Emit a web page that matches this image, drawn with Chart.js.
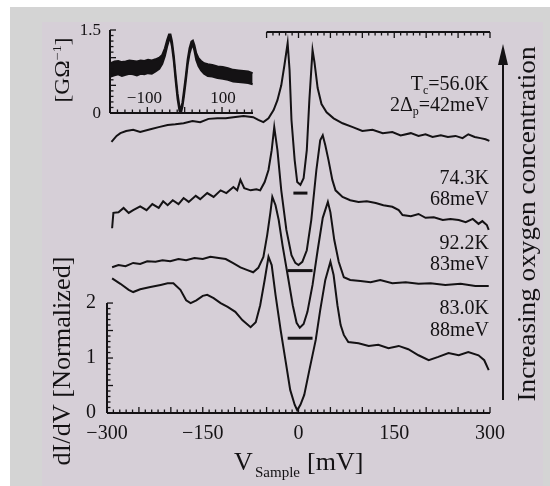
<!DOCTYPE html>
<html>
<head>
<meta charset="utf-8">
<script src="https://cdn.jsdelivr.net/npm/chart.js@4.4.1/dist/chart.umd.min.js"></script>
<style>
  html, body { margin: 0; padding: 0; background: #fff; }
  #wrap { position: relative; width: 550px; height: 486px; overflow: hidden; }
  #frame { position: absolute; left: 10px; top: 7px; width: 540px; height: 479px; background: #d4d4d4; }
  #panel { position: absolute; left: 42px; top: 22px; width: 501px; height: 464px; background: #d6cfd7; }
  canvas { position: absolute; left: 0; top: 0; }
</style>
</head>
<body>
<div id="wrap">
  <div id="frame"></div>
  <div id="panel"></div>
  <canvas id="main" width="550" height="486"></canvas>
  <canvas id="inset" width="550" height="486"></canvas>
</div>
<script>
// ---- data (mV, normalized dI/dV incl. vertical offset) ----
const xTickLabels = [-300, -150, 0, 150, 300];
const yTickLabels = [0, 1, 2];

// Tc = 56.0K
const c1Mv = [-293,-285,-279,-270,-259,-248,-232,-219,-205,-193,-180,-166,-154,-141,-127,-114,-102,-86,-71,-63,-55,-47,-39,-33,-27,-22,-17,-14,-11,-6,-2,3,8,13,17,22,25,30,36,44,55,69,85,100,116,132,147,160,176,188,199,210,223,234,246,257,266,276,285,293,299];
const c1Val = [4.93,5.04,5.09,5.13,5.15,5.11,5.16,5.20,5.24,5.25,5.27,5.31,5.29,5.35,5.36,5.36,5.38,5.40,5.38,5.33,5.29,5.36,5.51,5.69,5.96,6.33,6.73,6.24,5.33,4.60,4.20,4.15,4.27,4.78,5.69,6.60,6.38,5.91,5.62,5.47,5.36,5.27,5.20,5.13,5.15,5.09,5.11,5.05,5.09,5.04,5.07,5.02,5.05,5.02,5.04,5.00,5.07,5.02,5.00,4.98,4.95];

// 74.3K
const c2Mv = [-292,-290,-282,-274,-266,-259,-248,-238,-229,-219,-212,-205,-197,-188,-180,-172,-161,-154,-143,-133,-122,-113,-102,-96,-91,-85,-75,-66,-60,-53,-47,-42,-38,-33,-27,-19,-11,-5,0,6,13,20,28,34,38,42,47,53,58,69,81,94,107,121,133,147,157,163,176,188,199,212,226,238,251,262,273,282,288,295,298];
const c2Val = [3.36,3.64,3.65,3.73,3.64,3.69,3.76,3.69,3.80,3.73,3.85,3.78,3.87,3.80,3.91,3.84,3.95,3.89,4.00,3.93,4.05,4.00,4.11,4.05,4.24,4.09,4.05,4.07,4.05,4.20,4.42,4.78,5.20,4.78,4.05,3.33,2.87,2.73,2.69,2.75,2.96,3.51,4.42,4.96,5.05,4.87,4.60,4.24,4.05,3.93,3.87,3.84,3.85,3.82,3.78,3.75,3.69,3.60,3.58,3.62,3.55,3.56,3.51,3.53,3.51,3.47,3.53,3.44,3.49,3.42,3.33];

// 92.2K
const c3Mv = [-292,-282,-271,-259,-248,-237,-224,-213,-201,-188,-176,-163,-150,-138,-125,-114,-103,-91,-80,-71,-63,-55,-49,-44,-41,-36,-31,-25,-17,-9,-3,2,8,14,22,30,38,46,50,56,63,71,81,97,113,128,147,168,188,207,230,254,277,298];
const c3Val = [2.65,2.69,2.67,2.73,2.71,2.76,2.75,2.78,2.76,2.80,2.78,2.82,2.80,2.84,2.82,2.80,2.73,2.65,2.60,2.56,2.64,2.84,3.24,3.65,3.93,3.78,3.51,3.05,2.51,1.96,1.64,1.55,1.62,1.84,2.33,2.96,3.55,3.84,3.65,3.15,2.75,2.47,2.42,2.40,2.38,2.42,2.36,2.38,2.35,2.36,2.33,2.35,2.31,2.31];

// 83.0K
const c4Mv = [-292,-279,-266,-259,-248,-232,-216,-205,-196,-185,-176,-169,-160,-150,-143,-133,-122,-111,-99,-88,-75,-67,-60,-53,-47,-42,-36,-28,-20,-13,-6,-2,3,9,17,27,34,42,50,55,61,66,71,78,94,110,125,141,157,172,188,204,219,235,251,266,282,291,298];
const c4Val = [2.45,2.35,2.24,2.20,2.25,2.29,2.33,2.36,2.36,2.24,2.05,2.00,2.05,2.13,2.15,2.09,2.00,1.93,1.84,1.69,1.56,1.65,1.96,2.42,2.84,2.69,2.15,1.51,0.93,0.42,0.15,0.05,0.15,0.33,0.78,1.33,1.87,2.42,2.75,2.51,1.96,1.60,1.42,1.29,1.27,1.22,1.24,1.18,1.22,1.16,1.05,0.96,1.02,1.09,1.05,1.11,1.05,0.96,0.78];

// zero-level markers of the offset curves
const zeroMarkMv = [[-8, 14], [-17, 22], [-17, 22]];
const zeroMarkVal = [4.0, 2.59, 1.36];

const curveTemps = ['56.0K', '74.3K', '92.2K', '83.0K'];
const curveGaps = ['42meV', '68meV', '83meV', '88meV'];

// inset: raw conductance [GOhm^-1], band of overlaid spectra
const insetXTickLabels = [-100, 100];
const insetYTickLabels = [0, 1.5];
const insetMv = [-198,-188,-178,-168,-158,-148,-138,-128,-118,-108,-98,-88,-78,-68,-60,-53,-47,-42,-38,-34,-29,-24,-19,-14,-10,-6,-2,3,8,13,18,22,26,31,37,44,52,62,74,88,102,116,130,144,158,170,182];
const insetHigh = [.90,.93,.94,.92,.93,.95,.94,.93,.95,.94,.96,.95,.97,1.0,1.05,1.17,1.32,1.42,1.42,1.30,1.03,.67,.35,.12,.08,.19,.40,.67,.97,1.17,1.29,1.31,1.23,1.08,.99,.94,.90,.88,.87,.84,.83,.81,.78,.77,.76,.75,.72];
const insetLow = [.66,.68,.70,.67,.69,.71,.70,.68,.71,.70,.72,.71,.75,.80,.89,1.03,1.20,1.32,1.33,1.20,.93,.57,.25,.04,.00,.11,.30,.57,.87,1.07,1.19,1.22,1.13,.96,.85,.77,.71,.67,.66,.63,.62,.60,.57,.56,.55,.54,.52];

// ---- helpers ----
const INK = '#141214';
const SERIF = '"Liberation Serif", "DejaVu Serif", serif';
Chart.defaults.font.family = SERIF;
Chart.defaults.color = INK;

const pts = (xs, ys) => xs.map((x, i) => ({ x: x, y: ys[i] }));
const fmt = (v) => (v < 0 ? '\u2212' + Math.abs(v) : String(v));

function curve(xs, ys) {
  return { data: pts(xs, ys), borderColor: INK, borderWidth: 2, pointRadius: 0, tension: 0, fill: false };
}

function seg(ctx, x1, y1, x2, y2) {
  ctx.beginPath(); ctx.moveTo(x1, y1); ctx.lineTo(x2, y2); ctx.stroke();
}

// draw [text, size, dy] pieces, right aligned or from a left x
function drawParts(ctx, parts, x, yBase, alignRight) {
  let w = 0;
  parts.forEach(p => { ctx.font = p[1] + 'px ' + SERIF; w += ctx.measureText(p[0]).width; });
  let cx = alignRight ? x - w : x;
  ctx.textAlign = 'left'; ctx.textBaseline = 'alphabetic';
  parts.forEach(p => {
    ctx.font = p[1] + 'px ' + SERIF;
    ctx.fillText(p[0], cx, yBase + p[2]);
    cx += ctx.measureText(p[0]).width;
  });
}

// rotated (reading upward) text stretched to a given length
function drawVertical(ctx, parts, cx, cy, len) {
  ctx.save();
  ctx.translate(cx, cy);
  ctx.rotate(-Math.PI / 2);
  let w = 0;
  parts.forEach(p => { ctx.font = p[1] + 'px ' + SERIF; w += ctx.measureText(p[0]).width; });
  ctx.scale(len / w, 1);
  drawParts(ctx, parts, -w / 2, 0, false);
  ctx.restore();
}

// ---- main chart ----
const mainAxes = {
  id: 'mainAxes',
  afterDatasetsDraw(chart) {
    const ctx = chart.ctx, xs = chart.scales.x, ys = chart.scales.y;
    const y0 = ys.getPixelForValue(0), yTop = ys.getPixelForValue(ys.max);
    const xl = xs.getPixelForValue(-300), xr = xs.getPixelForValue(300);
    ctx.save();
    ctx.strokeStyle = INK; ctx.fillStyle = INK;
    ctx.lineWidth = 2;
    seg(ctx, xl, y0, xr, y0);
    seg(ctx, xs.getPixelForValue(-50), yTop, xr, yTop);
    seg(ctx, xl, y0, xl, ys.getPixelForValue(2));
    ctx.lineWidth = 1.3;
    for (let v = -300; v <= 300; v += 10) {
      const x = xs.getPixelForValue(v), len = v % 50 === 0 ? 6 : 3.5;
      seg(ctx, x, y0, x, y0 - len);
      if (v >= -50) seg(ctx, x, yTop, x, yTop + len);
    }
    for (let k = 0; k <= 20; k++) {
      const y = ys.getPixelForValue(k / 10), len = k % 5 === 0 ? 6 : 3.5;
      seg(ctx, xl, y, xl + len, y);
    }

    // curve annotations
    const xR = 489;
    drawParts(ctx, [['T', 20, 0], ['c', 12, 4], ['=' + curveTemps[0], 20, 0]], xR, 90, true);
    drawParts(ctx, [['2\u0394', 20, 0], ['p', 12, 4], ['=' + curveGaps[0], 20, 0]], xR, 111, true);
    const base = [[184, 205], [249, 270], [314, 336]];
    base.forEach((b, i) => {
      drawParts(ctx, [[curveTemps[i + 1], 20, 0]], xR, b[0], true);
      drawParts(ctx, [[curveGaps[i + 1], 20, 0]], xR, b[1], true);
    });

    // x title
    drawParts(ctx, [['V', 26, 0]], 234, 470, false);
    drawParts(ctx, [['Sample', 15, 0]], 255, 477, false);
    drawParts(ctx, [['[mV]', 26, 0]], 307, 470, false);

    // y title
    drawVertical(ctx, [['dI/dV [Normalized]', 26, 0]], 70, 361, 209);

    // arrow + caption
    ctx.lineWidth = 2;
    seg(ctx, 503, 62, 503, 400);
    ctx.beginPath(); ctx.moveTo(503, 44); ctx.lineTo(498, 65); ctx.lineTo(508, 65); ctx.closePath(); ctx.fill();
    drawVertical(ctx, [['Increasing oxygen concentration', 26, 0]], 535, 224, 355);
    ctx.restore();
  }
};

const datasets = [curve(c1Mv, c1Val), curve(c2Mv, c2Val), curve(c3Mv, c3Val), curve(c4Mv, c4Val)];
zeroMarkMv.forEach((m, i) => {
  datasets.push({ data: m.map(x => ({ x: x, y: zeroMarkVal[i] })), borderColor: INK, borderWidth: 3, pointRadius: 0, fill: false });
});

new Chart(document.getElementById('main'), {
  type: 'line',
  data: { datasets: datasets },
  options: {
    responsive: false,
    animation: false,
    layout: { padding: { top: 32, right: 60, left: 0, bottom: 0 } },
    plugins: { legend: { display: false }, tooltip: { enabled: false } },
    scales: {
      x: {
        type: 'linear', min: -300, max: 300,
        grid: { display: false, drawTicks: false }, border: { display: false },
        afterBuildTicks: (s) => { s.ticks = xTickLabels.map(v => ({ value: v })); },
        afterFit: (s) => { s.height = 73; },
        ticks: { font: { size: 20 }, padding: 9, maxRotation: 0, autoSkip: false, color: INK, callback: (v) => fmt(v) }
      },
      y: {
        type: 'linear', min: 0, max: 6.93,
        grid: { display: false, drawTicks: false }, border: { display: false },
        afterBuildTicks: (s) => { s.ticks = yTickLabels.map(v => ({ value: v })); },
        afterFit: (s) => { s.width = 107; },
        ticks: { font: { size: 20 }, padding: 11, color: INK, callback: (v) => fmt(v) }
      }
    }
  },
  plugins: [mainAxes]
});

// ---- inset ----
const insetAxes = {
  id: 'insetAxes',
  afterDatasetsDraw(chart) {
    const ctx = chart.ctx, xs = chart.scales.x, ys = chart.scales.y;
    const y0 = ys.getPixelForValue(0), xl = xs.left, xr = xs.right;
    ctx.save();
    ctx.strokeStyle = INK; ctx.fillStyle = INK;
    ctx.lineWidth = 2;
    seg(ctx, xl, y0, xr, y0);
    seg(ctx, xl, y0, xl, ys.getPixelForValue(1.5));
    ctx.lineWidth = 1.3;
    for (let v = -200; v <= 180; v += 20) {
      const x = xs.getPixelForValue(v), len = v % 100 === 0 ? 6 : 3.5;
      seg(ctx, x, y0, x, y0 - len);
    }
    for (let k = 0; k <= 15; k++) {
      const y = ys.getPixelForValue(k / 10), len = k % 5 === 0 ? 6 : 3.5;
      seg(ctx, xl, y, xl + len, y);
    }
    ctx.font = '17px ' + SERIF;
    ctx.textAlign = 'right'; ctx.textBaseline = 'middle';
    insetYTickLabels.forEach(v => ctx.fillText(fmt(v), xl - 9, ys.getPixelForValue(v) + 1));
    ctx.textAlign = 'center';
    insetXTickLabels.forEach(v => ctx.fillText(fmt(v), xs.getPixelForValue(v) - (v < 0 ? 3 : -1), y0 - 14));
    drawVertical(ctx, [['[G\u03A9', 20, 0], ['\u22121', 12, -8], [']', 20, 0]], 69, 70, 65);
    ctx.restore();
  }
};

new Chart(document.getElementById('inset'), {
  type: 'line',
  data: {
    datasets: [
      { data: pts(insetMv, insetHigh), borderColor: INK, borderWidth: 2, pointRadius: 0, tension: 0, fill: false },
      { data: pts(insetMv, insetLow), borderColor: INK, borderWidth: 2, pointRadius: 0, tension: 0, fill: '-1', backgroundColor: INK }
    ]
  },
  options: {
    responsive: false,
    animation: false,
    layout: { padding: { left: 110, right: 297, top: 30, bottom: 373 } },
    plugins: { legend: { display: false }, tooltip: { enabled: false } },
    scales: {
      x: { type: 'linear', min: -200, max: 183, display: false },
      y: { type: 'linear', min: 0, max: 1.5, display: false }
    }
  },
  plugins: [insetAxes]
});
</script>
</body>
</html>
